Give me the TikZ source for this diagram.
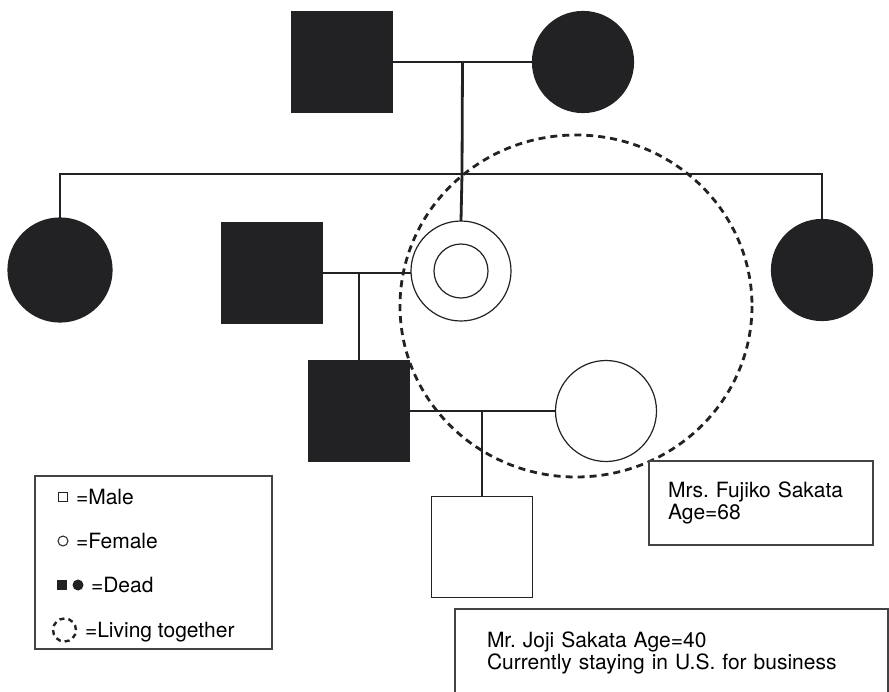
\documentclass[tikz,border=0pt]{standalone}
\usepackage{fontspec}
\setmainfont{TeX Gyre Heros}
\usetikzlibrary{positioning,calc}
\definecolor{ink}{RGB}{34,34,36}
\frenchspacing
\begin{document}
\begin{tikzpicture}[x=1pt, y=-1pt,
  every node/.style={inner sep=0pt, outer sep=0pt},
  link/.style={line width=2.8pt, draw=ink},
  male/.style={draw=ink, line width=1.2pt, minimum size=101pt},
  female/.style={circle, draw=ink, line width=1.2pt, minimum size=101pt},
  dead/.style={fill=ink},
  infobox/.style={draw=ink!85, line width=1.3pt, fill=white, align=left, font=\fontsize{21}{21.5}\selectfont},
  legtext/.style={anchor=base west, font=\fontsize{21}{21}\selectfont}
]
\clip (0,0) rectangle (889,691);

% grandparents
\node[male, dead] (gf) at (342,62) {};
\node[female, dead] (gm) at (583,62) {};
\coordinate (gc) at ($(gf.east)!0.5!(gm.west)$);
\coordinate (sib) at (462,174);
\draw[link] (gf) -- (gm);
\draw[link] (gc) -- (sib);

% daughters
\node[female, dead, minimum size=104pt] (aunt1) at (60,270) {};
\node[female, dead] (aunt2) at (822,270) {};
\node[female, minimum size=100pt] (mo) at (461,271) {};
\node[circle, draw=ink, line width=1.2pt, minimum size=54pt] (moin) at (mo) {};
\draw[link] (aunt1.north) -- (aunt1.north |- sib) -- (aunt2.north |- sib) -- (aunt2.north);
\draw[link] (sib) -- (mo.north);
\node[male, dead] (fa) at (272,273) {};
\draw[link] (fa.east) -- (fa.east -| mo.west);

% son and his family
\node[male, dead, minimum size=100pt] (joji) at (359,411) {};
\node[female] (wife) at (606,411) {};
\draw[link] (joji) -- (wife);
\draw[link] (joji.north) -- (joji.north |- fa.east);
\node[male] (child) at (482,547) {};
\draw[link] (child.north) -- (child.north |- joji.east);

% living together
\draw[ink, line width=2.8pt, dash pattern=on 7pt off 5pt] (576,306) ellipse [x radius=176, y radius=171];

% info boxes
\node[infobox, inner xsep=19pt, text width=186pt, minimum height=84pt] (fujiko) at (761,503) {Mrs. Fujiko Sakata\\Age=68};
\node[infobox, anchor=north, inner xsep=32pt, inner ysep=23pt, text width=369pt] (jojibox) at (671.5,609) {Mr. Joji Sakata Age=40\\Currently staying in U.S. for business};

% legend
\node[draw=ink!85, line width=1.3pt, minimum width=237pt, minimum height=173pt] (legend) at (153.5,562.5) {};
\node[draw=ink, line width=1pt, minimum size=9pt] (lmale) at (63,497) {};
\node[legtext] (tmale) at (76,504) {=Male};
\node[circle, draw=ink, line width=1pt, minimum size=10pt] (lfemale) at (63,541) {};
\node[legtext] (tfemale) at (76,548) {=Female};
\node[fill=ink, minimum size=10pt] (ldeadm) at (62,585) {};
\node[circle, fill=ink, minimum size=11pt] (ldeadf) at (78,585) {};
\node[legtext] (tdead) at (91,592) {=Dead};
\node[circle, draw=ink, line width=2.4pt, dash pattern=on 5pt off 4pt, minimum size=23pt] (llive) at (64.5,630) {};
\node[legtext] (tlive) at (85,637) {=Living together};
\end{tikzpicture}
\end{document}
